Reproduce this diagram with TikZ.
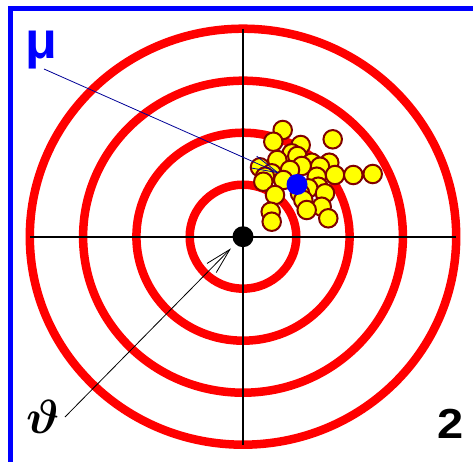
\documentclass[tikz,border=0pt]{standalone}
\usepackage{fontspec}
\setmainfont{Liberation Sans}
\usetikzlibrary{arrows.meta}
\definecolor{ringred}{RGB}{255,0,0}
\definecolor{dotyellow}{RGB}{255,255,0}
\definecolor{dotedge}{RGB}{128,0,0}
\definecolor{framblue}{RGB}{0,0,255}
\definecolor{navyline}{RGB}{0,0,150}
\tikzset{
  ring/.style={draw=ringred, line width=8.5pt},
  axis/.style={draw=black, line width=2.4pt},
  shot/.style={circle, fill=dotyellow, draw=dotedge, line width=2pt, minimum size=18.5pt, inner sep=0pt},
  pointer/.style={line width=0.8pt, -{Straight Barb[length=26pt,width=13pt,line width=0.8pt]}},
}
\begin{document}
\begin{tikzpicture}[x=1pt,y=-1pt]
\useasboundingbox (0,0) rectangle (473,462);
% frame
\draw[framblue, line width=5pt] (480,8.5) -- (10.5,8.5) -- (10.5,470);
% rings
\coordinate (c) at (243,236.7);
\foreach \k in {1,2,3,4}
  \draw[ring] (c) ellipse [x radius=53.3*\k pt, y radius=52*\k pt];
% axes
\coordinate (axl) at (30,236.7);
\coordinate (axr) at (456,236.7);
\coordinate (axt) at (243,29);
\coordinate (axb) at (243,445);
\draw[axis] (axl) -- (axr);
\draw[axis] (axt) -- (axb);
% shots
\foreach \n/\x/\y in {
 s1/282.7/130, s2/273.3/141.7, s3/332.7/139.3, s4/300.7/145, s5/291.7/153.3,
 s6/297.3/156, s7/277.3/160, s8/311.7/162.7, s9/329.3/162.7, s10/320/166.7,
 s11/301.7/166, s12/260/167.3, s13/271.7/173.3, s14/290/170, s15/265/176.7,
 s16/335/175, s17/353.3/175, s18/372.7/174, s19/316.7/176.7, s20/283.3/180,
 s21/263.3/181.7, s22/318.3/186.7, s23/308.3/188.3, s24/325/193.3, s25/300/193.3,
 s26/275/195, s27/303.3/200, s28/321.7/206.7, s29/306.7/210, s30/270.7/211.7,
 s31/328.3/218.3, s32/271.7/221.7}
  \node[shot] (\n) at (\x,\y) {};
% centre and mean
\node[circle, fill=black, minimum size=21pt, inner sep=0pt] (ctr) at (c) {};
\node[circle, fill=framblue, minimum size=21pt, inner sep=0pt] (mean) at (297,184.5) {};
% labels
\node[inner sep=0pt, text=framblue, font=\bfseries\fontsize{52}{52}\selectfont] (mu) at (41,50.5) {μ};
\node[inner sep=0pt, font=\boldmath\fontsize{10}{10}\selectfont, scale=4.8] (th) at (43.5,416.5) {$\vartheta$};
\node[inner sep=0pt, font=\bfseries\fontsize{42}{42}\selectfont, xscale=1.12] (two) at (450.5,423.5) {2};
% pointers
\coordinate (muS) at (44,69);
\coordinate (muT) at (279.3,173.3);
\coordinate (thS) at (65,417);
\coordinate (thT) at (231,248.3);
\draw[pointer, navyline] (muS) -- (muT);
\draw[pointer, black] (thS) -- (thT);
\end{tikzpicture}
\end{document}
